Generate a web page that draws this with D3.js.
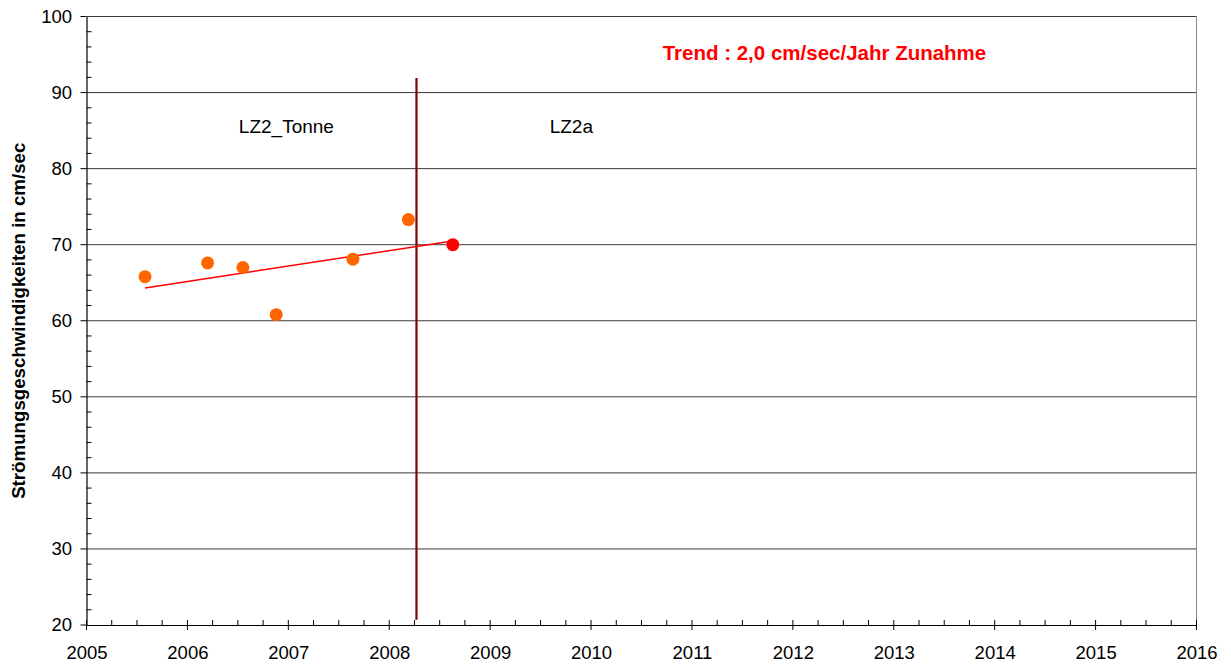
<!DOCTYPE html>
<html>
<head>
<meta charset="utf-8">
<script src="https://cdn.jsdelivr.net/npm/d3@7"></script>
<style>
  body { margin: 0; background: #fff; }
  text { font-family: "Liberation Sans", Arial, sans-serif; }
</style>
</head>
<body>
<div id="chart"></div>
<script>
// data
var tonneYears = [2005.58, 2006.20, 2006.55, 2006.88, 2007.64, 2008.19];
var tonneValues = [65.8, 67.6, 67.0, 60.8, 68.1, 73.3];
var lz2aYears = [2008.63];
var lz2aValues = [70.0];
var trendYears = [2005.58, 2008.63];
var trendValues = [64.3, 70.5];
var changeYear = 2008.27;
var changeRange = [20.7, 91.9];
var xTicks = [2005, 2006, 2007, 2008, 2009, 2010, 2011, 2012, 2013, 2014, 2015, 2016];
var yTicks = [20, 30, 40, 50, 60, 70, 80, 90, 100];

var svgWidth = 1231, svgHeight = 665;
var margin = { top: 16.5, right: 35, bottom: 40, left: 86.5 };
var width = 1196.5 - margin.left;
var height = 625 - margin.top;

var svg = d3.select("#chart").append("svg")
    .attr("width", svgWidth)
    .attr("height", svgHeight);

var g = svg.append("g")
    .attr("transform", `translate(${margin.left}, ${margin.top})`);

var x = d3.scaleLinear().domain([2005, 2016]).range([0, width]);
var y = d3.scaleLinear().domain([20, 100]).range([height, 0]);

// gridlines
g.selectAll(".grid")
    .data(yTicks.slice(1))
    .enter().append("line")
    .attr("x1", 0).attr("x2", width)
    .attr("y1", d => y(d)).attr("y2", d => y(d))
    .attr("stroke", "#3a3a3a")
    .attr("stroke-width", 1);

// right border
g.append("line")
    .attr("x1", width).attr("x2", width)
    .attr("y1", 0).attr("y2", height)
    .attr("stroke", "#8a8a8a").attr("stroke-width", 1);

// minor ticks
var xMinor = d3.range(2005, 2016.01, 0.25).filter(v => Math.abs(v - Math.round(v)) > 0.01);
g.selectAll(".xminor").data(xMinor).enter().append("line")
    .attr("x1", d => x(d)).attr("x2", d => x(d))
    .attr("y1", height).attr("y2", height - 5)
    .attr("stroke", "#000");

var yMinor = d3.range(20, 100.01, 2).filter(v => v % 10 !== 0);
g.selectAll(".yminor").data(yMinor).enter().append("line")
    .attr("x1", 0).attr("x2", 5)
    .attr("y1", d => y(d)).attr("y2", d => y(d))
    .attr("stroke", "#000");

// axes
var bottomAxis = d3.axisBottom(x).tickValues(xTicks).tickFormat(d3.format("d"))
    .tickSizeInner(0).tickSizeOuter(0).tickPadding(21);
var leftAxis = d3.axisLeft(y).tickValues(yTicks).tickFormat(d3.format("d"))
    .tickSizeInner(0).tickSizeOuter(0).tickPadding(14.5);

var xa = g.append("g").attr("transform", `translate(0, ${height})`).call(bottomAxis);
var ya = g.append("g").call(leftAxis);
[xa, ya].forEach(function (a) {
    a.select(".domain").attr("stroke", "#000").attr("stroke-width", 1.2);
    a.selectAll("text").attr("font-size", "18.5px").attr("fill", "#000")
        .style("font-family", "'Liberation Sans', Arial, sans-serif");
});

// major ticks crossing the axes
g.selectAll(".xmajor").data(xTicks).enter().append("line")
    .attr("x1", d => x(d)).attr("x2", d => x(d))
    .attr("y1", height - 5).attr("y2", height + 5)
    .attr("stroke", "#000");
g.selectAll(".ymajor").data(yTicks).enter().append("line")
    .attr("x1", -6).attr("x2", 0)
    .attr("y1", d => y(d)).attr("y2", d => y(d))
    .attr("stroke", "#000");

// change line
g.append("line")
    .attr("x1", x(changeYear)).attr("x2", x(changeYear))
    .attr("y1", y(changeRange[1])).attr("y2", y(changeRange[0]))
    .attr("stroke", "#800000").attr("stroke-width", 2.2);

// trend line
g.append("line")
    .attr("x1", x(trendYears[0])).attr("y1", y(trendValues[0]))
    .attr("x2", x(trendYears[1])).attr("y2", y(trendValues[1]))
    .attr("stroke", "#ff0000").attr("stroke-width", 1.5);

// points
g.selectAll(".tonne").data(tonneYears).enter().append("circle")
    .attr("cx", d => x(d))
    .attr("cy", (d, i) => y(tonneValues[i]))
    .attr("r", 6.5)
    .attr("fill", "#ff6600");

g.selectAll(".lz2a").data(lz2aYears).enter().append("circle")
    .attr("cx", d => x(d))
    .attr("cy", (d, i) => y(lz2aValues[i]))
    .attr("r", 6.5)
    .attr("fill", "#ff0000");

// labels
g.append("text").attr("x", x(2006.51)).attr("y", y(84.7))
    .attr("font-size", "19px").text("LZ2_Tonne");
g.append("text").attr("x", x(2009.59)).attr("y", y(84.7))
    .attr("font-size", "19px").text("LZ2a");
g.append("text").attr("x", x(2010.71)).attr("y", y(94.3))
    .attr("font-size", "20.5px").attr("font-weight", "bold")
    .attr("fill", "#ff0000").text("Trend : 2,0 cm/sec/Jahr Zunahme");

svg.append("text")
    .attr("transform", `translate(25, ${margin.top + height / 2}) rotate(-90)`)
    .attr("text-anchor", "middle")
    .attr("font-size", "18.7px").attr("font-weight", "bold")
    .text("Strömungsgeschwindigkeiten in cm/sec");
</script>
</body>
</html>
